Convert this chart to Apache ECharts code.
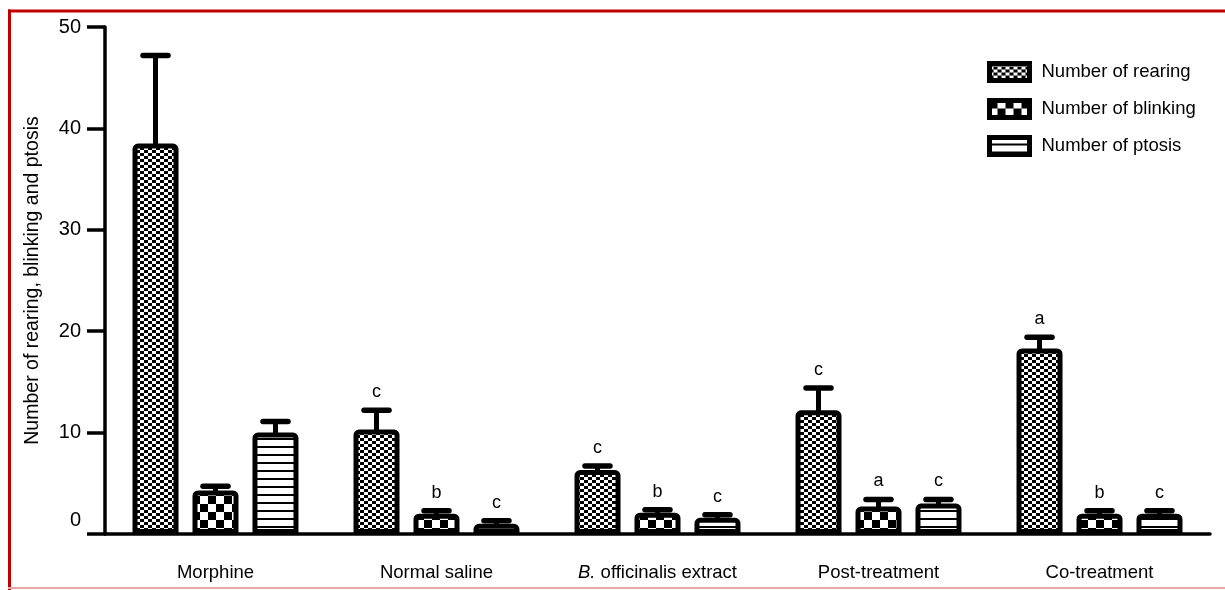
<!DOCTYPE html>
<html><head><meta charset="utf-8">
<script src="https://cdn.jsdelivr.net/npm/echarts@6/dist/echarts.min.js"></script>
<style>html,body{margin:0;padding:0;background:#fff}#c{width:1225px;height:590px}</style>
</head><body><div id="c"></div>
<script>
const categories = ['Morphine', 'Normal saline', 'B. officinalis extract', 'Post-treatment', 'Co-treatment'];
const seriesNames = ['Number of rearing', 'Number of blinking', 'Number of ptosis'];
const rearing = [38.5, 10.3, 6.3, 12.2, 18.3];
const rearingErr = [47.2, 12.2, 6.7, 14.4, 19.4];
const blinking = [4.3, 2.0, 2.1, 2.7, 2.0];
const blinkingErr = [4.7, 2.3, 2.4, 3.4, 2.3];
const ptosis = [10.0, 1.0, 1.6, 3.0, 2.0];
const ptosisErr = [11.1, 1.3, 1.9, 3.4, 2.3];
const rearingSig = ['', 'c', 'c', 'c', 'a'];
const blinkingSig = ['', 'b', 'b', 'a', 'b'];
const ptosisSig = ['', 'c', 'c', 'c', 'c'];
const yTickLabels = ['0', '10', '20', '30', '40', '50'];

function pat(w, h, draw) {
  const c = document.createElement('canvas'); c.width = w; c.height = h;
  const g = c.getContext('2d'); g.fillStyle = '#fff'; g.fillRect(0, 0, w, h);
  g.fillStyle = '#000'; draw(g); return c;
}
const finePat = pat(8, 6, g => { g.fillRect(0, 0, 4, 3); g.fillRect(4, 3, 4, 3); });
const coarsePat = pat(16, 16, g => { g.fillRect(0, 0, 8, 8); g.fillRect(8, 8, 8, 8); });
const stripePat = pat(8, 8, g => { g.fillRect(0, 6, 8, 2); });
const patterns = [finePat, coarsePat, stripePat];

const BAR_W = 46, GAP = 0.304, BORDER = 5;
const FONT = 'Liberation Sans, Arial, sans-serif';

function barSeries(idx, vals) {
  return {
    type: 'bar', name: seriesNames[idx], data: vals, barWidth: BAR_W, barGap: (GAP * 100) + '%',
    z: 3,
    itemStyle: { color: { image: patterns[idx], repeat: 'repeat' }, borderColor: '#000', borderWidth: BORDER, borderRadius: [3, 3, 0, 0] }
  };
}
function errSeries(idx, means, tops, sig) {
  return {
    type: 'custom', silent: true, z: 4,
    data: means.map((m, i) => [i, m, tops[i]]),
    encode: { x: 0, y: [1, 2] },
    renderItem: (params, api) => {
      const off = (idx - 1) * BAR_W * (1 + GAP);
      const base = api.coord([api.value(0), api.value(1)]);
      const top = api.coord([api.value(0), api.value(2)]);
      const x = base[0] + off;
      const capW = 25;
      const s = sig[params.dataIndex];
      const ch = [
        { type: 'line', shape: { x1: x, y1: base[1] + 3, x2: x, y2: top[1] }, style: { stroke: '#000', lineWidth: 5 } },
        { type: 'line', shape: { x1: x - capW / 2, y1: top[1], x2: x + capW / 2, y2: top[1] }, style: { stroke: '#000', lineWidth: 5.5, lineCap: 'round' } }
      ];
      if (s) ch.push({ type: 'text', x: x, y: top[1] - 9, style: { text: s, fill: '#000', font: '18px ' + FONT, textAlign: 'center', textVerticalAlign: 'bottom' } });
      return { type: 'group', children: ch };
    }
  };
}

const chart = echarts.init(document.getElementById('c'));
chart.setOption({
  animation: false,
  backgroundColor: '#fff',
  grid: { left: 105, right: 15, top: 27, bottom: 56 },
  legend: {
    orient: 'vertical', left: 987, top: 61, padding: 0,
    itemWidth: 40, itemHeight: 17, itemGap: 15, icon: 'rect',
    data: seriesNames,
    itemStyle: { borderColor: '#000', borderWidth: 5 },
    textStyle: { fontSize: 18.5, fontFamily: FONT, color: '#000', padding: [0, 0, 0, 7] }
  },
  xAxis: {
    type: 'category', data: categories,
    axisLine: { lineStyle: { color: '#000', width: 3.5 } },
    axisTick: { alignWithLabel: true, interval: 0, length: 14, lineStyle: { color: '#000', width: 5 } },
    axisLabel: {
      interval: 0, margin: 29, fontSize: 18.5, fontFamily: FONT, color: '#000',
      formatter: v => v.startsWith('B. ') ? '{i|B.}' + v.slice(2) : v,
      rich: { i: { fontStyle: 'italic', fontSize: 18.5, fontFamily: FONT, color: '#000' } }
    }
  },
  yAxis: {
    type: 'value', min: 0, max: 50, interval: 10,
    name: 'Number of rearing, blinking and ptosis', nameLocation: 'middle', nameGap: 62,
    nameTextStyle: { fontSize: 19.5, fontFamily: FONT, color: '#000' },
    axisLine: { show: true, lineStyle: { color: '#000', width: 3.5 } },
    axisTick: { show: true, length: 18, lineStyle: { color: '#000', width: 3.5 } },
    splitLine: { show: false },
    axisLabel: {
      margin: 24, fontSize: 20, fontFamily: FONT, color: '#000',
      formatter: (v, i) => v === 0 ? '{z|' + yTickLabels[0] + '}' : yTickLabels[i],
      rich: { z: { fontSize: 20, fontFamily: FONT, color: '#000', padding: [0, 0, 28, 0] } }
    }
  },
  graphic: [
    { type: 'line', shape: { x1: 9.5, y1: 9.5, x2: 9.5, y2: 590 }, style: { stroke: '#c00000', lineWidth: 3 } },
    { type: 'line', shape: { x1: 8, y1: 11, x2: 1225, y2: 11 }, style: { stroke: '#c00000', lineWidth: 3 } },
    { type: 'line', shape: { x1: 8, y1: 588, x2: 1225, y2: 588 }, style: { stroke: '#e8a8a8', lineWidth: 2 } }
  ],
  series: [
    barSeries(0, rearing), barSeries(1, blinking), barSeries(2, ptosis),
    errSeries(0, rearing, rearingErr, rearingSig),
    errSeries(1, blinking, blinkingErr, blinkingSig),
    errSeries(2, ptosis, ptosisErr, ptosisSig)
  ]
});
</script></body></html>
